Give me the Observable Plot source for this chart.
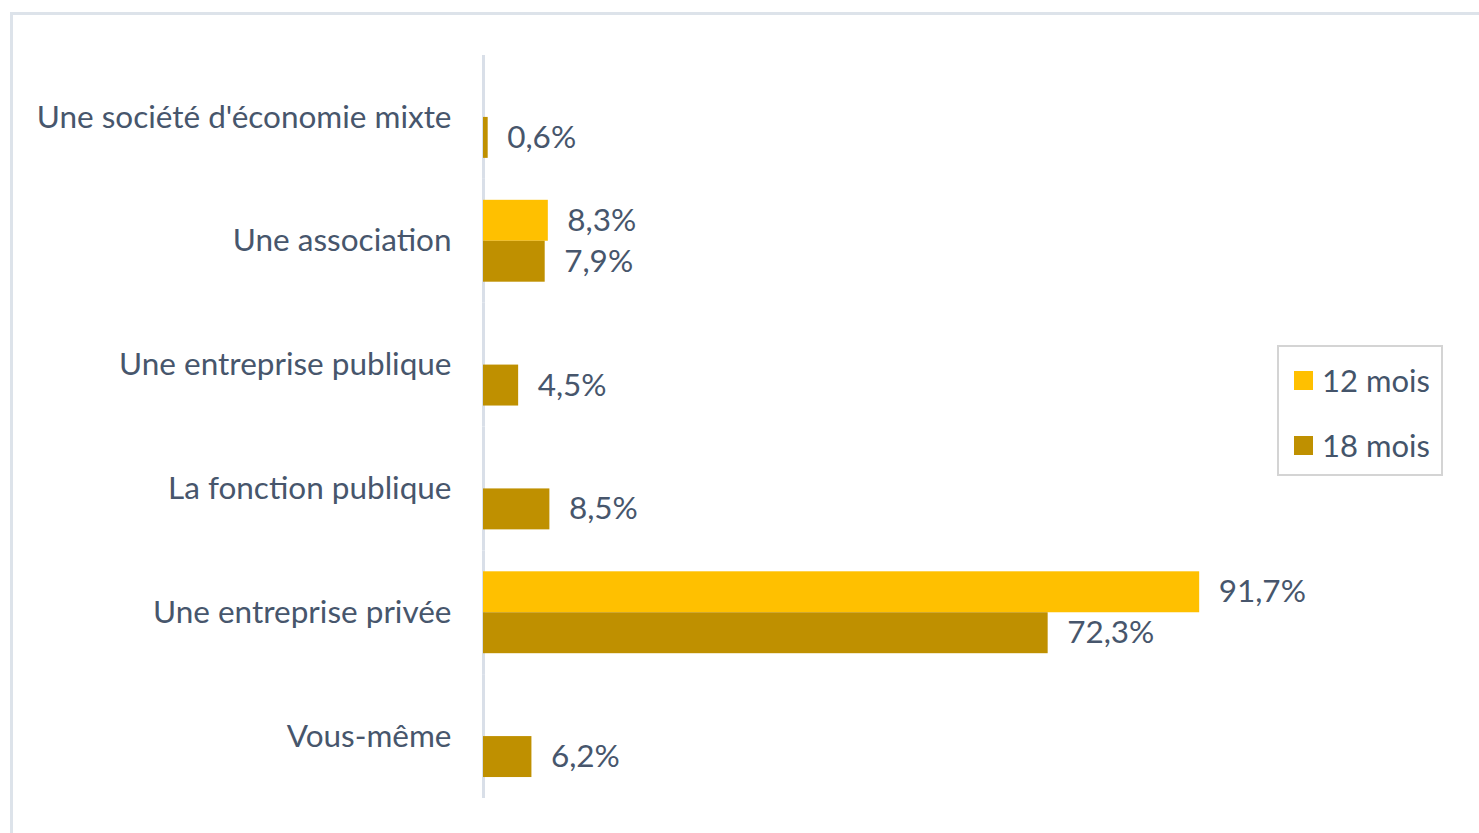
<!DOCTYPE html>
<html><head><meta charset="utf-8">
<script src="https://cdn.jsdelivr.net/npm/d3@7"></script>
<script src="https://cdn.jsdelivr.net/npm/@observablehq/plot@0.6"></script>
<style>
body{margin:0;background:#fff;font-family:Lato,sans-serif}
#wrap{position:relative;width:1479px;height:833px;overflow:hidden;background:#fff}
#frame{position:absolute;left:10px;top:12px;width:1600px;height:900px;border-left:3px solid #dde3ea;border-top:3px solid #dde3ea}
#chart{position:absolute;left:0;top:0}
#legend{position:absolute;left:1277px;top:345px;width:166px;height:131px;border:2.5px solid #d4d4d4;box-sizing:border-box;color:#44546A;font-size:31px}
.item{position:absolute;left:15px;display:flex;align-items:center;white-space:nowrap}
.sw{width:19px;height:19px;margin-right:9px}
</style></head>
<body>
<div id="wrap"><div id="frame"></div><div id="chart"></div>
<div id="legend"></div></div>
<script>
const categories = ["Une société d'économie mixte","Une association","Une entreprise publique","La fonction publique","Une entreprise privée","Vous-même"];
const series = ["12 mois","18 mois"];
const colors = ["#FFC000","#BF9000"];
const values12 = [null, 8.3, null, null, 91.7, null];
const values18 = [0.6, 7.9, 4.5, 8.5, 72.3, 6.2];

const rows = [];
categories.forEach((c,i)=>{
  if (values12[i] != null) rows.push({cat:c, series:series[0], value:values12[i]});
  if (values18[i] != null) rows.push({cat:c, series:series[1], value:values18[i]});
});
const fmt = v => v.toFixed(1).replace(".", ",") + "%";

const chart = Plot.plot({
  width:1479, height:833,
  marginLeft:483, marginRight:215, marginTop:55, marginBottom:35,
  x:{domain:[0,100], axis:null},
  y:{domain:series, axis:null, paddingInner:0, paddingOuter:0.512, round:false},
  fy:{domain:categories, padding:0, round:false, label:null, axis:"left", tickSize:0, tickPadding:32},
  color:{domain:series, range:colors},
  style:{fontFamily:"Lato, sans-serif", fontSize:"31.5px", color:"#47566c", background:"transparent"},
  marks:[
    Plot.ruleX([0], {stroke:"#d9dfe8", strokeWidth:3}),
    Plot.barX(rows, {fy:"cat", y:"series", x:"value", fill:"series", insetTop:0, insetBottom:0}),
    Plot.text(rows, {fy:"cat", y:"series", x:"value", text:d=>fmt(d.value), dx:19, textAnchor:"start", fill:"#47566c", fontSize:31.5})
  ]
});
document.getElementById("chart").appendChild(chart);

const leg = document.getElementById("legend");
series.forEach((s,i)=>{
  const it = document.createElement("div");
  it.className = "item";
  it.style.top = (i===0 ? 14 : 79) + "px";
  it.innerHTML = `<span class="sw" style="background:${colors[i]}"></span><span>${s}</span>`;
  leg.appendChild(it);
});
</script>
</body></html>
